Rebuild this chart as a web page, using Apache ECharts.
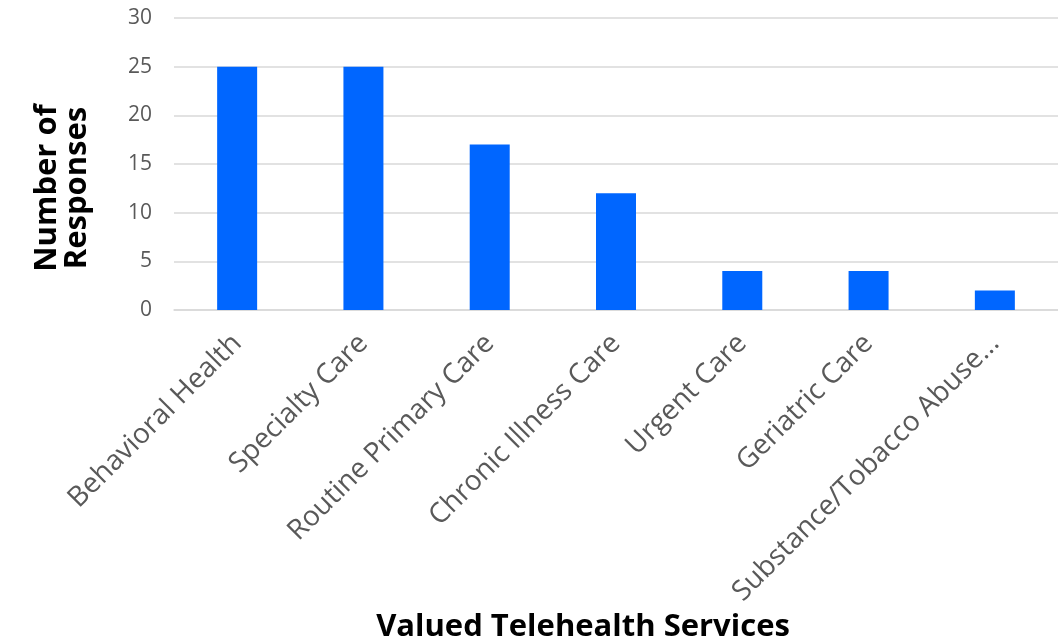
<!DOCTYPE html>
<html><head><meta charset="utf-8">
<script src="https://cdn.jsdelivr.net/npm/echarts@6/dist/echarts.min.js"></script>
<style>html,body{margin:0;padding:0;background:#fff}#c{width:1058px;height:644px}</style>
</head><body><div id="c"></div>
<script>
const categories = ["Behavioral Health","Specialty Care","Routine Primary Care","Chronic Illness Care","Urgent Care","Geriatric Care","Substance/Tobacco Abuse..."];
const responses = [25,25,17,12,4,4,2];
const yTicks = {min:0,max:30,interval:5};
const yTitle = "Number of\nResponses";
const xTitle = "Valued Telehealth Services";
const FONT = "'Open Sans', sans-serif";
const chart = echarts.init(document.getElementById('c'));
chart.setOption({
  animation:false,
  grid:{left:174,right:-8,top:18,bottom:334,containLabel:false},
  xAxis:{type:'category',data:categories,
    axisLine:{lineStyle:{color:'#d9d9d9',width:1.5}},axisTick:{show:false},
    axisLabel:{rotate:45,interval:0,color:'#595959',fontSize:28,fontFamily:FONT,margin:29}},
  yAxis:{type:'value',min:yTicks.min,max:yTicks.max,interval:yTicks.interval,
    axisLine:{show:false},axisTick:{show:false},
    splitLine:{lineStyle:{color:'#d9d9d9',width:1.5}},
    axisLabel:{color:'#595959',fontSize:21,fontFamily:FONT,margin:22}},
  series:[{type:'bar',data:responses,barWidth:40,itemStyle:{color:'#0066FF'}}],
  graphic:[
    {type:'text',x:62,y:188,rotation:Math.PI/2,style:{text:yTitle,fontSize:31,fontWeight:'bold',fontFamily:FONT,fill:'#000',textAlign:'center',textVerticalAlign:'middle',lineHeight:30}},
    {type:'text',x:583,y:627,style:{text:xTitle,fontSize:31,fontWeight:'bold',fontFamily:FONT,fill:'#000',textAlign:'center',textVerticalAlign:'middle'}}
  ]
});
</script></body></html>
